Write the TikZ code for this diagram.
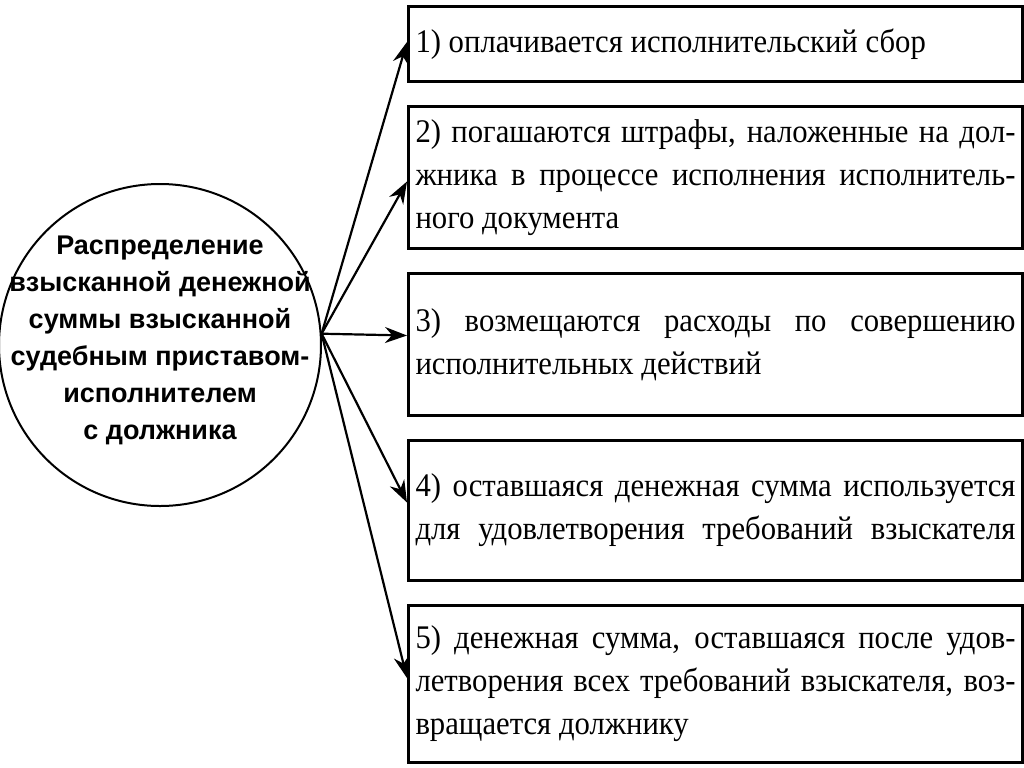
\documentclass[tikz,border=0pt]{standalone}
\usepackage{fontspec}
\setmainfont{Liberation Serif}
\newfontfamily\itemfont[FakeStretch=0.93]{Liberation Serif}
\newfontfamily\circlefont{Liberation Sans}
\usepackage{tikz}
\usetikzlibrary{positioning, arrows.meta, calc}

\tikzset{
  itembox/.style={draw, line width=1.5pt, rectangle, text width=300pt,
        inner xsep=3.5pt, inner ysep=0pt, align=justify,
        font=\itemfont\fontsize{16.5}{21.5}\selectfont},
  link/.style={-{Stealth[length=11pt,width=8pt]}, line width=1.1pt},
}

\begin{document}
\begin{tikzpicture}[x=0.5pt, y=-0.5pt, node distance=11pt]
  \useasboundingbox (0,0) rectangle (1024,767);

  % left circle
  \node[circle, draw, line width=1pt, minimum size=161pt] (sum) at (160,345) {};
  \node[font=\circlefont\bfseries\fontsize{13.5}{18.5}\selectfont, align=center]
        (sumtext) at (160,340) {Распределение\\ взысканной денежной\\ суммы взысканной\\
        судебным приставом-\\ исполнителем\\ с должника};

  % right boxes
  \node[itembox, minimum height=37.5pt, anchor=north west] (box1) at (407,5)
        {1) оплачивается исполнительский сбор};
  \node[itembox, minimum height=71pt, below=of box1] (box2)
        {2) погашаются штрафы, наложенные на дол-\linebreak жника в процессе исполнения исполнитель-\linebreak ного документа};
  \node[itembox, minimum height=71pt, below=of box2] (box3)
        {3) возмещаются расходы по совершению\linebreak исполнительных действий};
  \node[itembox, minimum height=70pt, below=of box3] (box4)
        {\parfillskip=0pt 4) оставшаяся денежная сумма используется\linebreak для удовлетворения требований взыскателя\par};
  \node[itembox, minimum height=78.5pt, below=of box4] (box5)
        {5) денежная сумма, оставшаяся после удов-\linebreak летворения всех требований взыскателя, воз-\linebreak вращается должнику};

  % arrows
  \coordinate (fork) at (sum.4);
  \draw[link] (fork) -- ([yshift=1pt]box1.west);
  \draw[link] (fork) -- ([yshift=-2pt]box2.west);
  \draw[link] (fork) -- ([yshift=4.5pt]box3.west);
  \draw[link] (fork) -- ([yshift=4pt]box4.west);
  \draw[link] (fork) -- ([yshift=3pt]box5.west);
\end{tikzpicture}
\end{document}
